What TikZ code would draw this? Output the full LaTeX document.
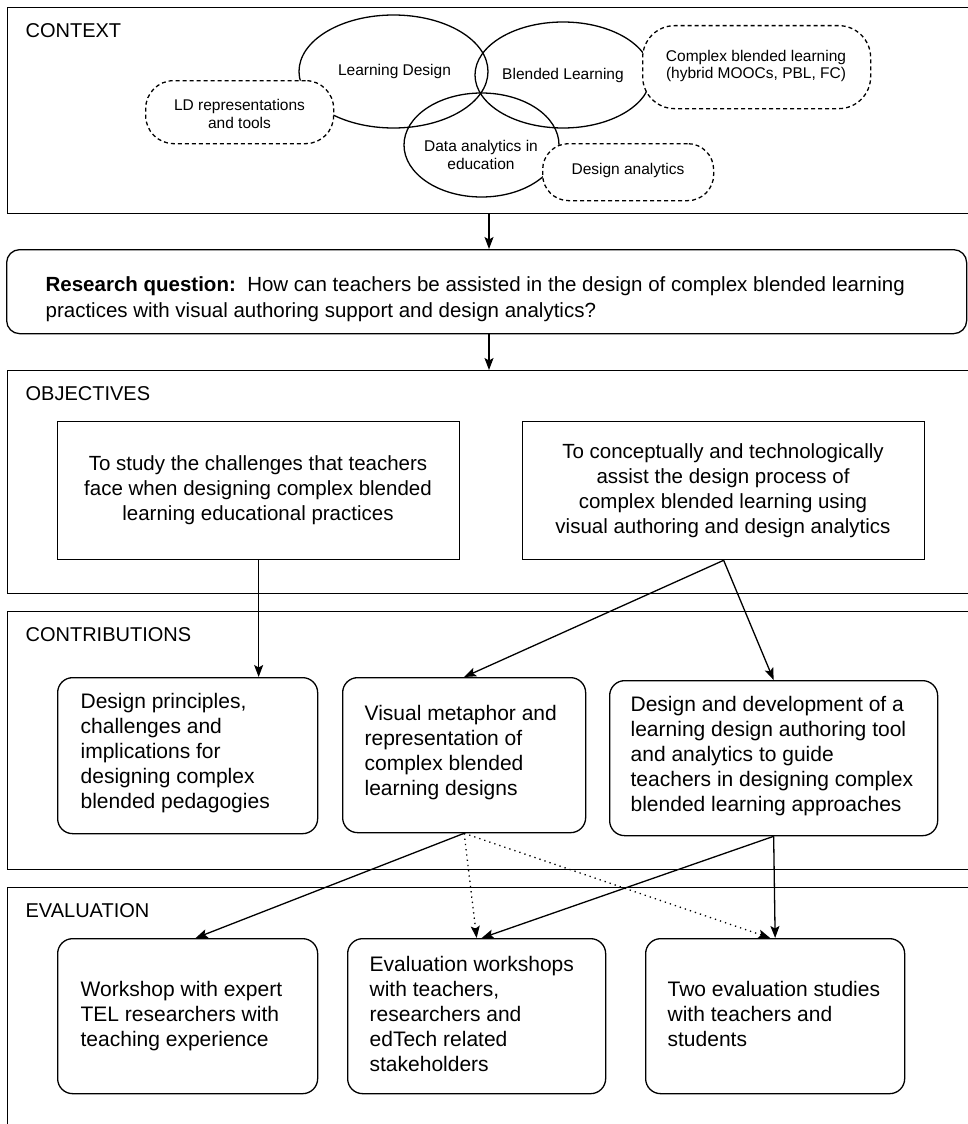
\documentclass[tikz,border=0pt]{standalone}
\usepackage{fontspec}
\setmainfont{Liberation Sans}
\usetikzlibrary{arrows.meta,calc,shapes.geometric}
\begin{document}
\begin{tikzpicture}[x=1pt,y=-1pt,
  line width=1.3pt,
  frame/.style={draw, rectangle, inner sep=0pt, anchor=north west},
  hdr/.style={anchor=base west, inner sep=0pt, font=\fontsize{20}{24}\selectfont},
  venn/.style={draw, ellipse, inner sep=0pt},
  topic/.style={draw, dash pattern=on 4pt off 3pt, fill=white, inner sep=0pt, anchor=north west},
  small/.style={inner sep=0pt, align=center, font=\fontsize{15.5}{17.5}\selectfont},
  objbox/.style={draw, rectangle, inner sep=0pt, anchor=north west},
  objtext/.style={inner sep=0pt, anchor=north, align=center, font=\fontsize{20.5}{25}\selectfont},
  rbox/.style={draw, rounded corners=15pt, inner sep=0pt, anchor=north west},
  ctext/.style={inner sep=0pt, anchor=north west, align=left, font=\fontsize{21}{25}\selectfont},
  arr/.style={-{Stealth[length=12pt, width=9pt, inset=2.5pt]}, line width=1.3pt},
  dotarr/.style={arr, dash pattern=on 1.3pt off 4pt}
]
\useasboundingbox (0,0) rectangle (967,1124);

% ---------- CONTEXT ----------
\node[frame, minimum width=1000pt, minimum height=206pt] (ctx) at (7,7) {};
\node[hdr] (ctxh) at (25,38) {CONTEXT};

\node[venn, minimum width=189pt, minimum height=113pt] (ld) at (393.5,71.5) {};
\node[venn, minimum width=176pt, minimum height=106pt] (bl) at (563,75) {};
\node[venn, minimum width=155pt, minimum height=104pt] (da) at (481.5,145) {};

\node[topic, rounded corners=28pt, minimum width=188pt, minimum height=63pt] (ldr) at (145,80) {};
\node[topic, rounded corners=32pt, minimum width=228pt, minimum height=83pt] (cbl) at (642,25) {};
\node[topic, rounded corners=26pt, minimum width=171pt, minimum height=57pt] (dan) at (542,143) {};

\node[small] (ldt) at (394.5,71.5) {Learning Design};
\node[small] (blt) at (563,75) {Blended Learning};
\node[small] (dat) at (481,155) {Data analytics in\\education};
\node[small] (ldrt) at (239.5,114) {LD representations\\and tools};
\node[small] (cblt) at (756,66) {Complex blended learning\\(hybrid MOOCs, PBL, FC)};
\node[small] (dant) at (628,170) {Design analytics};

% ---------- RESEARCH QUESTION ----------
\node[draw, rounded corners=13pt, inner sep=0pt, anchor=north west,
      minimum width=960pt, minimum height=84pt] (rq) at (6,249) {};
\node[inner sep=0pt, anchor=north west, align=left, font=\fontsize{20.5}{26.5}\selectfont] (rqt) at (45,275.5)
  {\textbf{Research question:}\ \ How can teachers be assisted in the design of complex blended learning\\
   practices with visual authoring support and design analytics?};

% ---------- OBJECTIVES ----------
\node[frame, minimum width=1000pt, minimum height=223pt] (obj) at (7,370) {};
\node[hdr] (objh) at (25,400) {OBJECTIVES};
\node[objbox, minimum width=402pt, minimum height=138pt] (o1) at (57,421) {};
\node[objbox, minimum width=402pt, minimum height=138pt] (o2) at (522,421) {};
\node[objtext] (o1t) at (258,455.2)
  {To study the challenges that teachers\\face when designing complex blended\\learning educational practices};
\node[objtext] (o2t) at (723,443.2)
  {To conceptually and technologically\\assist the design process of\\complex blended learning using\\visual authoring and design analytics};

% ---------- CONTRIBUTIONS ----------
\node[frame, minimum width=1000pt, minimum height=258pt] (con) at (7,611) {};
\node[hdr] (conh) at (25,641) {CONTRIBUTIONS};
\node[rbox, minimum width=260pt, minimum height=156pt] (c1) at (57,677) {};
\node[rbox, minimum width=243pt, minimum height=155pt] (c2) at (342,677) {};
\node[rbox, minimum width=328pt, minimum height=155pt] (c3) at (609,680) {};
\node[ctext] (c1t) at (80,692.9)
  {Design principles,\\challenges and\\implications for\\designing complex\\blended pedagogies};
\node[ctext] (c2t) at (364,704.9)
  {Visual metaphor and\\representation of\\complex blended\\learning designs};
\node[ctext] (c3t) at (630,695.9)
  {Design and development of a\\learning design authoring tool\\and analytics to guide\\teachers in designing complex\\blended learning approaches};

% ---------- EVALUATION ----------
\node[frame, minimum width=1000pt, minimum height=300pt] (eva) at (7,887) {};
\node[hdr] (evah) at (25,917) {EVALUATION};
\node[rbox, minimum width=260pt, minimum height=155pt] (e1) at (57,938) {};
\node[rbox, minimum width=258pt, minimum height=155pt] (e2) at (347,938) {};
\node[rbox, minimum width=259pt, minimum height=155pt] (e3) at (645,938) {};
\node[ctext] (e1t) at (80,980.9)
  {Workshop with expert\\TEL researchers with\\teaching experience};
\node[ctext] (e2t) at (369,955.4)
  {Evaluation workshops\\with teachers,\\researchers and\\edTech related\\stakeholders};
\node[ctext] (e3t) at (667,980.9)
  {Two evaluation studies\\with teachers and\\students};

% ---------- CONNECTORS ----------
\coordinate (spine) at (489,0);
\draw[arr] (ctx.south -| spine) -- (rq.north -| spine);
\draw[arr] (rq.south -| spine) -- (obj.north -| spine);

\draw[arr] (o1.south) -- (o1.south |- c1.north);
\draw[arr] (o2.south) -- (c2.north);
\draw[arr] (o2.south) -- (c3.north);

\draw[arr] (c2.south) -- ([xshift=8pt]e1.north);
\draw[dotarr] (c2.south) -- (e2.north);
\draw[dotarr] (c2.south) -- ([xshift=-5pt]e3.north);
\draw[arr] (c3.south) -- ([xshift=5pt]e2.north);
\draw[arr] (c3.south) -- (e3.north);
\end{tikzpicture}
\end{document}
